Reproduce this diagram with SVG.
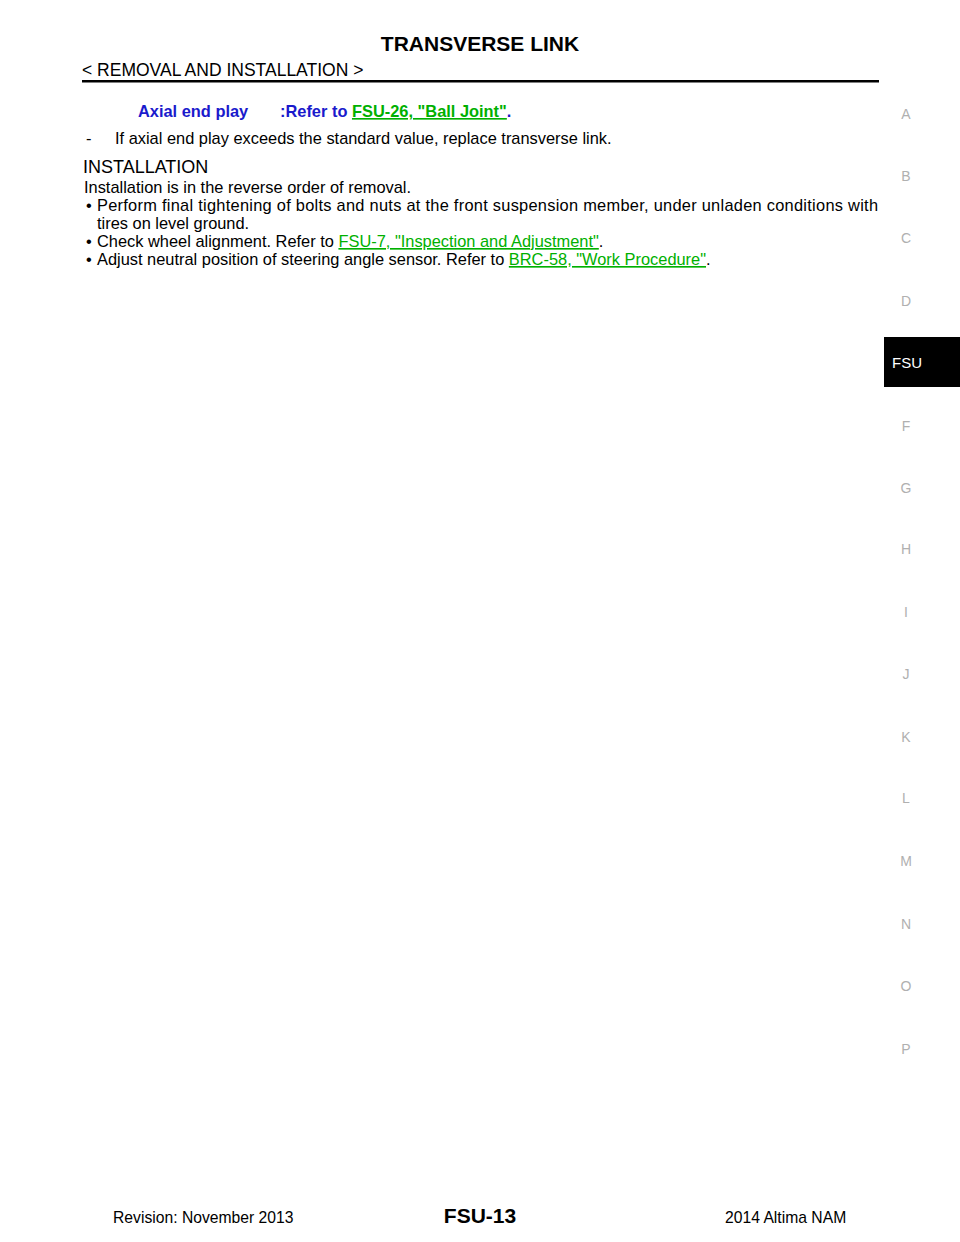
<svg xmlns="http://www.w3.org/2000/svg" width="960" height="1242" viewBox="0 0 960 1242">
<style>
text{font-family:"Liberation Sans",Arial,sans-serif;fill:#000}
.b{font-size:16.4px}
.l{fill:#00b000;text-decoration:underline}
.side{font-size:14px;fill:#b0b0b0;text-anchor:middle}
</style>
<rect width="960" height="1242" fill="#fff"/>
<text x="480" y="51" font-size="21" font-weight="bold" text-anchor="middle">TRANSVERSE LINK</text>
<text x="82" y="76" font-size="17.5">&lt; REMOVAL AND INSTALLATION &gt;</text>
<rect x="82" y="80" width="797" height="2.5" fill="#000"/>
<text x="138" y="117" class="b" font-weight="bold" style="fill:#1a1acc">Axial end play</text>
<text x="280" y="117" class="b" font-weight="bold" style="fill:#1a1acc">:Refer to <tspan class="l">FSU-26, "Ball Joint"</tspan>.</text>
<text x="86" y="144" class="b">-</text>
<text x="115" y="144" class="b">If axial end play exceeds the standard value, replace transverse link.</text>
<text x="83" y="173" font-size="18">INSTALLATION</text>
<text x="84" y="193" class="b">Installation is in the reverse order of removal.</text>
<text x="86" y="211" class="b">•</text>
<text x="97" y="211" class="b" textLength="781" lengthAdjust="spacing">Perform final tightening of bolts and nuts at the front suspension member, under unladen conditions with</text>
<text x="97" y="229" class="b">tires on level ground.</text>
<text x="86" y="247" class="b">•</text>
<text x="97" y="247" class="b">Check wheel alignment. Refer to <tspan class="l">FSU-7, "Inspection and Adjustment"</tspan>.</text>
<text x="86" y="265" class="b">•</text>
<text x="97" y="265" class="b">Adjust neutral position of steering angle sensor. Refer to <tspan class="l">BRC-58, "Work Procedure"</tspan>.</text>
<g>
<text x="906" y="119" class="side">A</text>
<text x="906" y="181" class="side">B</text>
<text x="906" y="243" class="side">C</text>
<text x="906" y="306" class="side">D</text>
<rect x="884" y="337" width="76" height="50" fill="#000"/>
<text x="907" y="368" font-size="15" text-anchor="middle" style="fill:#fff">FSU</text>
<text x="906" y="431" class="side">F</text>
<text x="906" y="493" class="side">G</text>
<text x="906" y="554" class="side">H</text>
<text x="906" y="617" class="side">I</text>
<text x="906" y="679" class="side">J</text>
<text x="906" y="742" class="side">K</text>
<text x="906" y="803" class="side">L</text>
<text x="906" y="866" class="side">M</text>
<text x="906" y="929" class="side">N</text>
<text x="906" y="991" class="side">O</text>
<text x="906" y="1054" class="side">P</text>
</g>
<text x="113" y="1223" font-size="15.7">Revision: November 2013</text>
<text x="480" y="1223" font-size="21" font-weight="bold" text-anchor="middle">FSU-13</text>
<text x="725" y="1223" font-size="15.7">2014 Altima NAM</text>
</svg>
